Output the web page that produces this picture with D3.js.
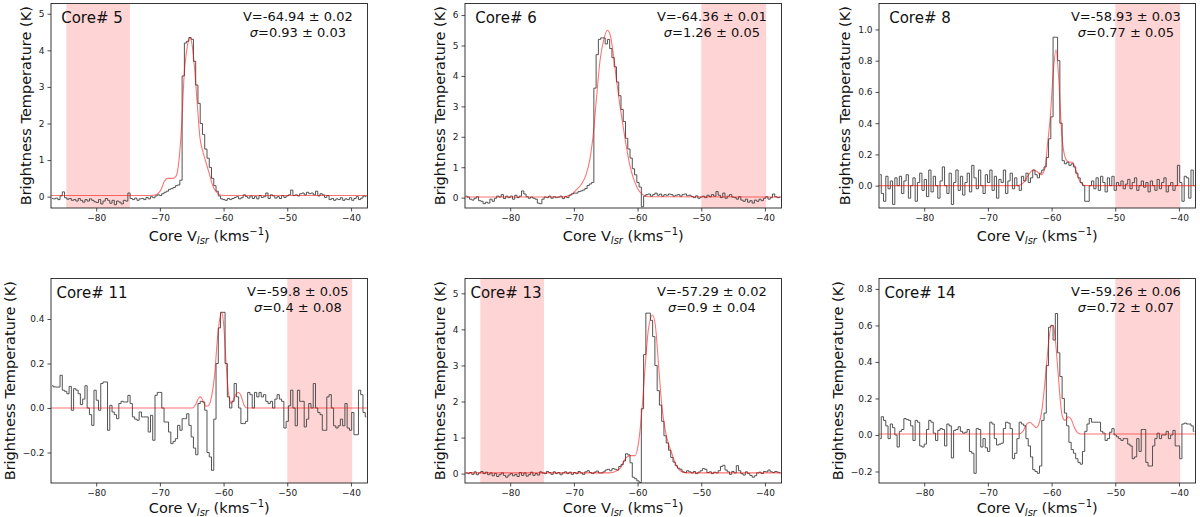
<!DOCTYPE html>
<html>
<head>
<meta charset="utf-8">
<script src="https://cdn.jsdelivr.net/npm/d3@7"></script>
<style>
  html, body { margin: 0; padding: 0; background: #fff; }
  svg { display: block; font-family: 'DejaVu Sans', sans-serif; }
</style>
</head>
<body>
<div id="chart"></div>
<script>
// ---- data ----
const coreNames = ['Core# 5', 'Core# 6', 'Core# 8', 'Core# 11', 'Core# 13', 'Core# 14'];
const velocityFits = ['V=-64.94 ± 0.02', 'V=-64.36 ± 0.01', 'V=-58.93 ± 0.03', 'V=-59.8 ± 0.05', 'V=-57.29 ± 0.02', 'V=-59.26 ± 0.06'];
const sigmaFits = ['=0.93 ± 0.03', '=1.26 ± 0.05', '=0.77 ± 0.05', '=0.4 ± 0.08', '=0.9 ± 0.04', '=0.72 ± 0.07'];
const shadeRanges = [[-84.7, -74.7], [-50, -39.8], [-50, -39.8], [-50, -39.8], [-84.7, -74.7], [-50, -39.8]];
const yDomains = [[-0.31, 5.28], [-0.34, 6.38], [-0.143, 1.166], [-0.337, 0.582], [-0.26, 5.41], [-0.263, 0.857]];
const yTickValues = [
    [0, 1, 2, 3, 4, 5],
    [0, 1, 2, 3, 4, 5, 6],
    [0, 0.2, 0.4, 0.6, 0.8, 1.0],
    [-0.2, 0, 0.2, 0.4],
    [0, 1, 2, 3, 4, 5],
    [-0.2, 0, 0.2, 0.4, 0.6, 0.8]
];
const yTickFormats = ['d', 'd', '.1f', '.1f', 'd', '.1f'];
const xTickValues = [-80, -70, -60, -50, -40];

// velocity channels (km/s)
const vStart = -87.1;
const vEnd = -37.4;
const dv = 0.355;

// brightness temperature per channel (K), 10 channels per row
const spec5 = [
    -0.05, -0.06, -0.04, -0.08, 0.02, 0.13, -0.03, -0.07, -0.05, -0.1,
    -0.08, -0.12, -0.05, -0.1, -0.15, -0.08, -0.12, -0.06, -0.1, -0.14,
    -0.16, -0.08, -0.2, -0.12, -0.05, -0.1, -0.18, -0.1, -0.22, -0.12,
    -0.15, -0.2, -0.1, -0.12, 0.1, -0.05, -0.08, -0.04, -0.1, -0.06,
    -0.05, -0.08, -0.02, -0.06, 0.0, -0.03, 0.02, 0.05, 0.03, 0.08,
    0.12, 0.15, 0.2, 0.22, 0.25, 0.3, 0.32, 0.45, 3.3, 4.2,
    4.25, 4.35, 4.3, 3.7, 3.05, 2.55, 2.0, 1.7, 1.3, 1.05,
    0.8, 0.5, 0.3, 0.15, 0.02, -0.06, -0.08, -0.1, -0.05, -0.08,
    -0.05, -0.02, 0.0, -0.06, -0.03, 0.05, 0.0, -0.04, 0.02, -0.05,
    0.0, -0.06, 0.03, -0.02, 0.0, 0.1, -0.05, 0.05, 0.02, -0.04,
    0.0, -0.05, 0.03, -0.02, 0.02, 0.05, 0.18, 0.03, 0.05, 0.02,
    0.08, 0.1, 0.05, 0.12, 0.08, 0.1, 0.05, 0.15, 0.02, 0.08,
    0.05, -0.02, 0.03, -0.08, -0.05, -0.1, -0.06, -0.08, -0.03, -0.1,
    -0.06, -0.08, -0.03, -0.1, -0.05, 0.0, -0.08, -0.04, 0.02, 0.0
];
const spec6 = [
    0.05, 0.02, -0.05, -0.08, -0.02, 0.03, -0.1, -0.12, -0.2, -0.15,
    -0.18, -0.05, -0.12, -0.02, 0.05, 0.02, 0.1, -0.03, 0.05, 0.0,
    0.05, -0.05, 0.08, 0.0, 0.05, 0.22, 0.12, 0.03, -0.02, 0.02,
    -0.02, -0.05, -0.18, -0.2, -0.05, 0.02, 0.0, 0.05, -0.02, 0.03,
    0.0, 0.02, 0.05, -0.03, 0.03, 0.0, 0.08, 0.12, 0.15, 0.15,
    0.2, 0.22, 0.25, 0.3, 0.4, 0.45, 0.5, 3.6, 4.7, 5.2,
    5.25, 5.25, 5.05, 5.2, 4.9, 4.6, 4.3, 3.8, 3.35, 2.9,
    2.5, 1.95, 1.6, 1.3, 0.95, 0.75, 0.5, 0.35, -0.3, 0.05,
    0.1, 0.12, 0.05, 0.1, 0.15, 0.08, 0.12, 0.05, 0.1, 0.08,
    0.12, 0.1, 0.05, 0.08, 0.1, 0.05, 0.1, 0.12, 0.06, 0.08,
    0.04, 0.0, 0.06, -0.02, 0.02, 0.05, 0.0, 0.08, 0.03, 0.1,
    0.05, 0.2, 0.08, 0.0, 0.15, -0.02, 0.05, 0.1, 0.02, 0.0,
    -0.05, 0.03, -0.08, -0.12, -0.05, -0.15, -0.1, -0.18, -0.08, -0.12,
    -0.05, -0.1, -0.02, 0.03, -0.05, 0.0, 0.12, 0.03, 0.0, 0.02
];
const spec8 = [
    0.07, -0.05, -0.1, 0.06, -0.02, 0.03, -0.12, 0.05, 0.0, 0.06,
    -0.05, 0.03, 0.07, -0.08, 0.0, 0.05, -0.1, 0.02, 0.08, -0.03,
    0.04, -0.07, 0.1, -0.04, 0.06, 0.0, -0.08, 0.03, 0.12, 0.0,
    -0.05, 0.08, -0.12, 0.02, 0.1, -0.03, 0.06, -0.06, 0.02, 0.08,
    -0.04, 0.13, 0.05, -0.02, 0.1, 0.0, -0.05, 0.07, 0.02, 0.1,
    -0.03, 0.06, -0.08, 0.04, 0.02, 0.1, -0.05, 0.03, 0.08, -0.02,
    0.05, 0.0, -0.03, 0.06, 0.03, 0.08, 0.02, 0.05, 0.1, 0.07,
    0.05, 0.08, 0.1, 0.12, 0.18, 0.3, 0.44, 0.95, 0.95, 0.8,
    0.4, 0.16, 0.14, 0.15, 0.13, 0.14, 0.12, 0.08, 0.05, 0.02,
    0.0, -0.1, -0.1, 0.0, 0.03, -0.02, 0.05, -0.03, 0.06, 0.02,
    -0.04, 0.05, 0.0, 0.06, -0.03, 0.02, 0.0, 0.03, -0.02, 0.01,
    0.04, -0.02, 0.02, 0.05, -0.03, 0.0, 0.03, -0.01, 0.02, -0.04,
    0.03, 0.0, -0.03, 0.04, -0.02, 0.02, 0.05, -0.04, 0.0, 0.02,
    -0.03, 0.0, 0.13, 0.02, -0.1, 0.06, 0.05, -0.08, 0.1, 0.0
];
const spec11 = [
    0.1, 0.095, 0.094, 0.094, 0.147, 0.08, 0.075, 0.064, 0.097, -0.01,
    0.087, 0.08, 0.064, 0.015, 0.04, 0.1, 0.0, -0.03, -0.078, 0.08,
    0.035, -0.01, 0.11, 0.117, 0.117, -0.1, 0.012, -0.018, -0.03, -0.048,
    0.02, 0.03, 0.027, 0.027, 0.057, 0.02, -0.04, -0.05, -0.055, -0.018,
    -0.04, -0.04, -0.04, -0.108, -0.033, -0.145, 0.057, 0.07, 0.07, 0.0,
    -0.063, -0.063, -0.108, -0.16, -0.15, -0.138, -0.078, -0.1, -0.048, -0.048,
    -0.026, -0.078, -0.13, -0.18, -0.21, 0.02, 0.03, 0.027, -0.01, -0.2,
    -0.22, -0.28, -0.05, 0.2, 0.36, 0.43, 0.43, 0.2, 0.05, 0.0,
    0.03, 0.11, 0.05, 0.0, -0.07, -0.07, -0.06, 0.07, 0.06, 0.0,
    0.07, 0.05, 0.07, 0.05, 0.06, 0.03, 0.02, 0.03, 0.0, 0.04,
    0.06, 0.04, 0.03, -0.09, -0.06, 0.01, 0.08, 0.0, -0.08, 0.08,
    0.03, 0.03, -0.085, -0.05, 0.02, 0.0, 0.11, 0.0, -0.02, -0.03,
    -0.1, -0.1, 0.05, 0.06, 0.0, -0.08, -0.09, -0.08, -0.05, -0.08,
    0.02, -0.09, -0.1, -0.02, -0.12, -0.12, 0.08, 0.06, -0.02, -0.04
];
const spec13 = [
    0.02, 0.0, 0.03, -0.02, 0.05, -0.03, 0.02, 0.06, 0.0, 0.04,
    -0.03, 0.02, -0.06, 0.0, -0.08, -0.03, 0.02, -0.05, -0.1, -0.04,
    0.0, -0.06, -0.02, -0.08, 0.03, -0.05, 0.02, -0.07, -0.03, 0.04,
    -0.05, 0.0, -0.04, 0.05, 0.02, 0.0, 0.06, 0.03, -0.02, 0.05,
    0.0, 0.03, -0.03, 0.02, 0.05, 0.0, 0.04, -0.02, 0.03, 0.0,
    0.06, 0.02, -0.02, 0.05, 0.08, 0.03, 0.0, 0.04, 0.07, 0.02,
    0.02, 0.05, 0.1, 0.12, 0.08, 0.14, 0.12, 0.1, 0.2, 0.25,
    0.35, 0.55, 0.52, 0.3, -0.1, -0.14, -0.2, -0.25, 1.8, 3.3,
    4.45, 4.45, 4.25, 3.8, 3.0, 2.3, 1.9, 1.45, 1.05, 0.85,
    0.65, 0.45, 0.32, 0.22, 0.15, 0.12, 0.05, 0.03, 0.08, 0.05,
    0.02, 0.06, 0.0, 0.04, 0.08, 0.14, 0.12, 0.03, 0.05, 0.0,
    0.04, 0.02, 0.08, 0.2, 0.23, 0.1, 0.05, -0.02, 0.06, 0.02,
    0.22, 0.08, 0.0, -0.04, 0.05, 0.0, -0.05, -0.1, -0.06, 0.02,
    0.04, 0.0, 0.06, 0.05, 0.1, 0.05, 0.03, 0.06, 0.04, 0.02
];
const spec14 = [
    -0.02, 0.1, 0.08, 0.05, -0.02, 0.06, 0.04, 0.0, -0.066, 0.02,
    0.03, 0.09, 0.085, 0.08, 0.05, -0.03, 0.08, 0.07, -0.06, -0.066,
    -0.05, 0.03, 0.08, 0.07, 0.01, -0.03, 0.025, 0.035, 0.03, -0.06,
    0.06, 0.05, -0.126, 0.025, 0.03, 0.045, 0.02, 0.01, 0.015, 0.03,
    -0.09, -0.1, -0.21, 0.035, 0.03, -0.066, -0.02, -0.07, -0.09, 0.07,
    0.06, -0.02, -0.055, -0.05, -0.045, 0.035, 0.07, 0.065, 0.035, -0.13,
    -0.1, -0.02, 0.07, 0.06, 0.05, -0.02, -0.06, -0.12, -0.19, -0.2,
    -0.21, -0.17, 0.08, 0.12, 0.38, 0.59, 0.6, 0.52, 0.665, 0.45,
    0.32, 0.2, 0.12, 0.05, -0.04, -0.08, -0.1, -0.13, -0.15, -0.16,
    -0.09, 0.02, 0.06, 0.09, 0.07, 0.07, 0.07, 0.07, 0.02, 0.01,
    -0.03, -0.02, 0.015, 0.035, 0.0, -0.01, -0.02, -0.03, -0.02, -0.02,
    -0.05, -0.06, -0.13, -0.12, -0.02, -0.09, 0.03, 0.03, -0.15, -0.17,
    -0.17, -0.06, -0.02, 0.01, -0.02, 0.0, 0.0, 0.02, -0.02, 0.0,
    0.025, -0.06, -0.06, -0.13, 0.06, 0.065, 0.06, 0.06, 0.05, 0.02
];

// fitted profiles, [velocity, T]
const fit5 = [[-87.1, 0.03], [-71.5, 0.03], [-70.5, 0.06], [-69.8, 0.2], [-69.3, 0.42], [-68.8, 0.5], [-68.0, 0.5],
    [-67.5, 0.55], [-67.0, 1.0], [-66.6, 1.9], [-66.2, 3.3], [-65.7, 4.1], [-65.3, 4.35], [-64.9, 4.1], [-64.6, 3.6],
    [-64.2, 2.7], [-63.7, 1.6], [-63.2, 1.2], [-62.7, 0.9], [-62.2, 0.6], [-61.7, 0.3], [-61.2, 0.14], [-60.6, 0.05],
    [-60.0, 0.03], [-37.4, 0.03]];
const fit6 = [[-87.1, 0.02], [-72.0, 0.02], [-71.0, 0.05], [-70.2, 0.14], [-69.5, 0.28], [-68.8, 0.45], [-68.1, 0.75],
    [-67.5, 1.25], [-66.9, 2.2], [-66.4, 3.4], [-65.9, 4.5], [-65.3, 5.2], [-64.75, 5.5], [-64.3, 5.35], [-63.8, 4.7],
    [-63.3, 3.85], [-62.75, 3.0], [-62.2, 2.25], [-61.7, 1.6], [-61.2, 1.05], [-60.6, 0.6], [-60.0, 0.3], [-59.2, 0.1],
    [-58.2, 0.03], [-37.4, 0.02]];
const fit8 = [[-87.1, 0.0], [-65.2, 0.0], [-64.4, 0.02], [-63.6, 0.07], [-62.9, 0.1], [-62.3, 0.09], [-61.6, 0.07],
    [-61.0, 0.12], [-60.6, 0.28], [-60.2, 0.44], [-59.75, 0.72], [-59.3, 0.87], [-58.9, 0.7], [-58.4, 0.33], [-58.0, 0.2],
    [-57.6, 0.16], [-57.1, 0.15], [-56.7, 0.15], [-56.2, 0.1], [-55.8, 0.05], [-55.2, 0.01], [-54.6, 0.0], [-37.4, 0.0]];
const fit11 = [[-87.1, 0.0], [-64.9, 0.0], [-64.4, 0.015], [-63.9, 0.045], [-63.6, 0.05], [-63.2, 0.03], [-62.8, 0.008],
    [-62.4, 0.01], [-61.9, 0.05], [-61.4, 0.15], [-61.0, 0.3], [-60.6, 0.4], [-60.3, 0.43], [-60.0, 0.38], [-59.6, 0.2],
    [-59.2, 0.06], [-58.8, 0.02], [-58.4, 0.04], [-58.0, 0.065], [-57.6, 0.07], [-57.2, 0.05], [-56.8, 0.015],
    [-56.3, 0.0], [-37.4, 0.0]];
const fit13 = [[-87.1, 0.02], [-64.5, 0.02], [-63.8, 0.04], [-62.7, 0.15], [-61.9, 0.42], [-61.2, 0.5], [-60.4, 0.5],
    [-59.9, 0.8], [-59.3, 1.8], [-58.8, 3.0], [-58.3, 4.0], [-57.65, 4.4], [-57.2, 4.1], [-56.7, 3.0], [-56.2, 1.9],
    [-55.65, 1.2], [-55.1, 0.8], [-54.6, 0.55], [-54.1, 0.3], [-53.3, 0.08], [-52.3, 0.02], [-37.4, 0.02]];
const fit14 = [[-87.1, 0.005], [-65.2, 0.005], [-64.5, 0.02], [-63.9, 0.06], [-63.4, 0.07], [-62.9, 0.055], [-62.4, 0.04],
    [-61.9, 0.07], [-61.5, 0.14], [-61.1, 0.27], [-60.8, 0.38], [-60.4, 0.53], [-60.0, 0.6], [-59.7, 0.6], [-59.4, 0.52],
    [-59.0, 0.35], [-58.6, 0.18], [-58.3, 0.1], [-57.9, 0.08], [-57.4, 0.1], [-56.9, 0.085], [-56.4, 0.04],
    [-55.8, 0.01], [-55.2, 0.005], [-37.4, 0.005]];

const spectra = [spec5, spec6, spec8, spec11, spec13, spec14];
const fits = [fit5, fit6, fit8, fit11, fit13, fit14];

// ---- layout ----
const width = 1200;
const height = 517;
const colLeft = [51, 465, 879];
const rowTop = [3.5, 278.5];
const xLabelOffset = [32.5, 30];   // bottom row pulled up a little so the label is not clipped
const axW = 316.5;
const axH = 204.5;

const svg = d3.select('#chart').append('svg')
    .attr('width', width)
    .attr('height', height)
    .attr('viewBox', `0 0 ${width} ${height}`);

const x = d3.scaleLinear().domain([vStart, vEnd]).range([0, axW]);

coreNames.forEach((name, k) => {
    const row = Math.floor(k / 3);
    const left = colLeft[k % 3];
    const top = rowTop[row];
    const y = d3.scaleLinear().domain(yDomains[k]).range([axH, 0]);

    const g = svg.append('g').attr('transform', `translate(${left},${top})`);

    g.append('clipPath').attr('id', `clip${k}`)
        .append('rect').attr('width', axW).attr('height', axH);

    const plot = g.append('g').attr('clip-path', `url(#clip${k})`);

    // Shaded velocity window
    plot.append('rect')
        .attr('x', x(shadeRanges[k][0]))
        .attr('y', 0)
        .attr('width', x(shadeRanges[k][1]) - x(shadeRanges[k][0]))
        .attr('height', axH)
        .attr('fill', '#ff0000')
        .attr('fill-opacity', 0.17);

    // Observed spectrum
    const stepLine = d3.line()
        .x((d, i) => x(vStart + dv * (i + 0.5)))
        .y(d => y(d))
        .curve(d3.curveStep);
    plot.append('path')
        .datum(spectra[k])
        .attr('d', stepLine)
        .attr('fill', 'none')
        .attr('stroke', '#4a4a4a')
        .attr('stroke-width', 0.95);

    // Fitted profile
    const fitLine = d3.line()
        .x(d => x(d[0]))
        .y(d => y(d[1]))
        .curve(d3.curveMonotoneX);
    plot.append('path')
        .datum(fits[k])
        .attr('d', fitLine)
        .attr('fill', 'none')
        .attr('stroke', '#ff0000')
        .attr('stroke-width', 1.1)
        .attr('stroke-opacity', 0.55);

    // Axes
    const xAxis = g.append('g')
        .attr('transform', `translate(0,${axH})`)
        .call(d3.axisBottom(x).tickValues(xTickValues).tickSize(3.5).tickPadding(3).tickFormat(d3.format('d')));
    const yAxis = g.append('g')
        .call(d3.axisLeft(y).tickValues(yTickValues[k]).tickSize(3.5).tickPadding(3).tickFormat(d3.format(yTickFormats[k])));
    [xAxis, yAxis].forEach(a => {
        a.select('.domain').remove();
        a.selectAll('line').attr('stroke', '#222').attr('stroke-width', 0.8);
        a.selectAll('text').attr('fill', '#222').attr('font-size', 9).attr('font-family', 'DejaVu Sans');
    });

    // Frame
    g.append('rect')
        .attr('width', axW)
        .attr('height', axH)
        .attr('fill', 'none')
        .attr('stroke', '#222')
        .attr('stroke-width', 0.9);

    // Core label
    g.append('text')
        .attr('x', 41)
        .attr('y', 19.4)
        .attr('font-size', 15)
        .attr('text-anchor', 'middle')
        .attr('fill', '#111')
        .text(name);

    // Fit results
    g.append('text')
        .attr('x', axW * 0.78)
        .attr('y', 17)
        .attr('font-size', 13)
        .attr('text-anchor', 'middle')
        .attr('fill', '#111')
        .text(velocityFits[k]);
    const sig = g.append('text')
        .attr('x', axW * 0.78)
        .attr('y', 33)
        .attr('font-size', 13)
        .attr('text-anchor', 'middle')
        .attr('fill', '#111');
    sig.append('tspan').attr('font-style', 'italic').text('σ');
    sig.append('tspan').text(sigmaFits[k]);

    // X label
    const xl = g.append('text')
        .attr('x', axW / 2)
        .attr('y', axH + xLabelOffset[row])
        .attr('font-size', 14.5)
        .attr('text-anchor', 'middle')
        .attr('fill', '#111');
    xl.append('tspan').text('Core V');
    xl.append('tspan').attr('font-style', 'italic').attr('font-size', 10).attr('dy', 3).text('lsr');
    xl.append('tspan').attr('dy', -3).text(' (kms');
    xl.append('tspan').attr('font-size', 10).attr('dy', -6).text('−1');
    xl.append('tspan').attr('dy', 6).text(')');

    // Y label, just outside the tick labels
    const bb = yAxis.node().getBBox();
    g.append('text')
        .attr('transform', `translate(${bb.x - 8},${axH / 2}) rotate(-90)`)
        .attr('font-size', 14.5)
        .attr('text-anchor', 'middle')
        .attr('fill', '#111')
        .text('Brightness Temperature (K)');
});
</script>
</body>
</html>
